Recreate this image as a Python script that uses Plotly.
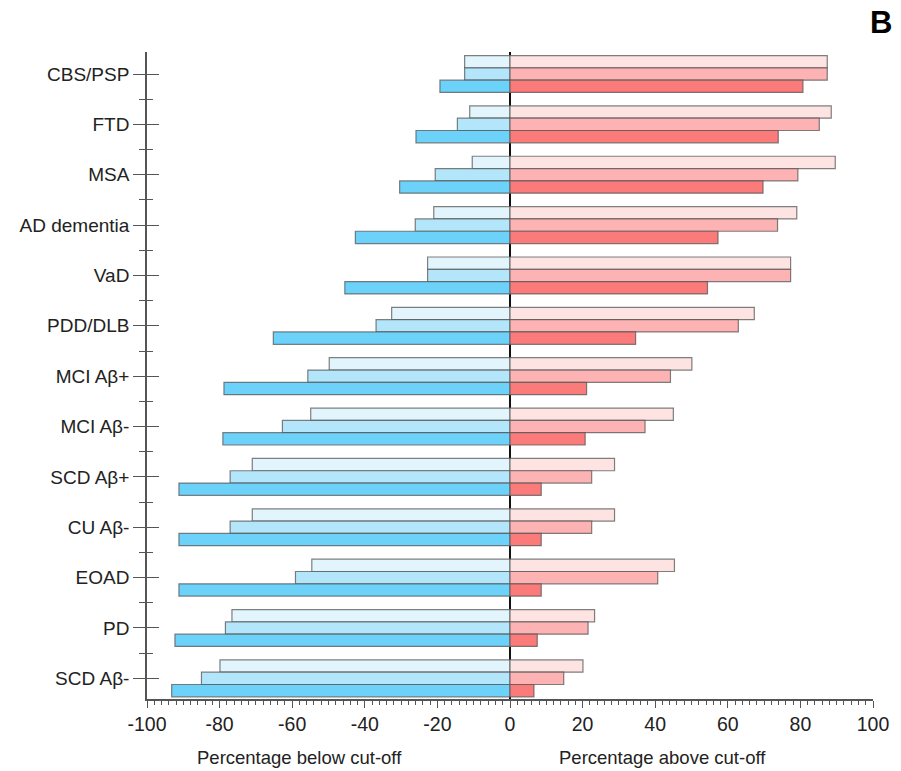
import plotly.graph_objects as go

categories = ["CBS/PSP", "FTD", "MSA", "AD dementia", "VaD", "PDD/DLB",
              "MCI Aβ+", "MCI Aβ-", "SCD Aβ+", "CU Aβ-", "EOAD", "PD", "SCD Aβ-"]

neg_light = [-12.5, -11.1, -10.4, -21.0, -22.7, -32.6, -49.8, -54.9, -71.0, -71.0, -54.6, -76.6, -79.9]
neg_med = [-12.5, -14.5, -20.6, -26.1, -22.7, -36.9, -55.7, -62.7, -77.1, -77.1, -59.1, -78.4, -85.0]
neg_dark = [-19.3, -25.9, -30.4, -42.6, -45.5, -65.2, -78.8, -79.1, -91.2, -91.2, -91.2, -92.3, -93.2]

pos_light = [87.4, 88.5, 89.6, 79.0, 77.3, 67.3, 50.1, 45.0, 28.8, 28.8, 45.3, 23.3, 20.1]
pos_med = [87.4, 85.2, 79.3, 73.7, 77.3, 62.9, 44.2, 37.2, 22.5, 22.5, 40.7, 21.5, 14.8]
pos_dark = [80.7, 73.9, 69.7, 57.3, 54.4, 34.6, 21.1, 20.7, 8.6, 8.6, 8.6, 7.5, 6.6]

x_ticks = [-100, -80, -60, -40, -20, 0, 20, 40, 60, 80, 100]

ypos = list(range(len(categories)))
n = len(categories)

FONT = "Liberation Sans, Arial, Helvetica, sans-serif"
outline = dict(color="rgba(85,85,85,0.75)", width=1.2)

series = [
    (neg_light, "#E2F5FD", "g1"),
    (pos_light, "#FEE3E3", "g1"),
    (neg_med, "#B3E6FA", "g2"),
    (pos_med, "#FDB3B3", "g2"),
    (neg_dark, "#6DD2F9", "g3"),
    (pos_dark, "#FB7B7B", "g3"),
]

fig = go.Figure()
for vals, col, grp in series:
    fig.add_trace(go.Bar(x=vals, y=ypos, orientation="h", marker=dict(color=col, line=outline),
                         offsetgroup=grp, showlegend=False))

fig.add_trace(go.Scatter(x=[None], y=[None], yaxis="y2", showlegend=False, hoverinfo="skip"))

yrange = [n - 1 + 0.41, -0.437]
axis_col = "#555555"

fig.update_layout(
    width=893, height=763,
    margin=dict(l=134, r=28, t=44, b=72),
    paper_bgcolor="white", plot_bgcolor="white",
    barmode="group", bargap=0.267, bargroupgap=0,
    font=dict(family=FONT, size=19, color="#222222"),
    xaxis=dict(
        range=[-100, 100], tickmode="array", tickvals=x_ticks,
        ticktext=[str(v) for v in x_ticks],
        ticks="outside", ticklen=7, tickwidth=1.3, tickcolor=axis_col,
        minor=dict(ticks="outside", ticklen=4, tickwidth=1, tickcolor=axis_col,
                   tickmode="linear", tick0=0, dtick=2),
        showline=True, linecolor=axis_col, linewidth=1.6,
        showgrid=False, zeroline=True, zerolinecolor="#111111", zerolinewidth=1.6,
        layer="above traces", tickfont=dict(size=19.5),
    ),
    yaxis=dict(
        range=yrange, tickmode="array", tickvals=ypos, ticktext=categories,
        ticks="outside", ticklen=12, tickwidth=1.3, tickcolor=axis_col,
        minor=dict(ticks="outside", ticklen=6, tickwidth=1.3, tickcolor=axis_col,
                   tickmode="linear", tick0=0.5, dtick=1),
        showline=True, linecolor=axis_col, linewidth=1.6,
        showgrid=False, zeroline=False, tickfont=dict(size=19),
    ),
    yaxis2=dict(
        range=yrange, overlaying="y", side="left", anchor="x",
        tickmode="array", tickvals=ypos, showticklabels=False,
        ticks="inside", ticklen=12, tickwidth=1.3, tickcolor=axis_col,
        minor=dict(ticks="inside", ticklen=6, tickwidth=1.3, tickcolor=axis_col,
                   tickmode="linear", tick0=0.5, dtick=1),
        showline=False, showgrid=False, zeroline=False,
    ),
)

fig.add_annotation(x=-58, y=-0.091, xref="x", yref="paper", text="Percentage below cut-off",
                   showarrow=False, xanchor="center", yanchor="middle", font=dict(size=18.5))
fig.add_annotation(x=42, y=-0.091, xref="x", yref="paper", text="Percentage above cut-off",
                   showarrow=False, xanchor="center", yanchor="middle", font=dict(size=18.5))
fig.add_annotation(x=1.011, y=1.045, xref="paper", yref="paper", text="<b>B</b>",
                   showarrow=False, xanchor="center", yanchor="middle",
                   font=dict(size=31, color="#000000"))

fig.write_html("out.html")
